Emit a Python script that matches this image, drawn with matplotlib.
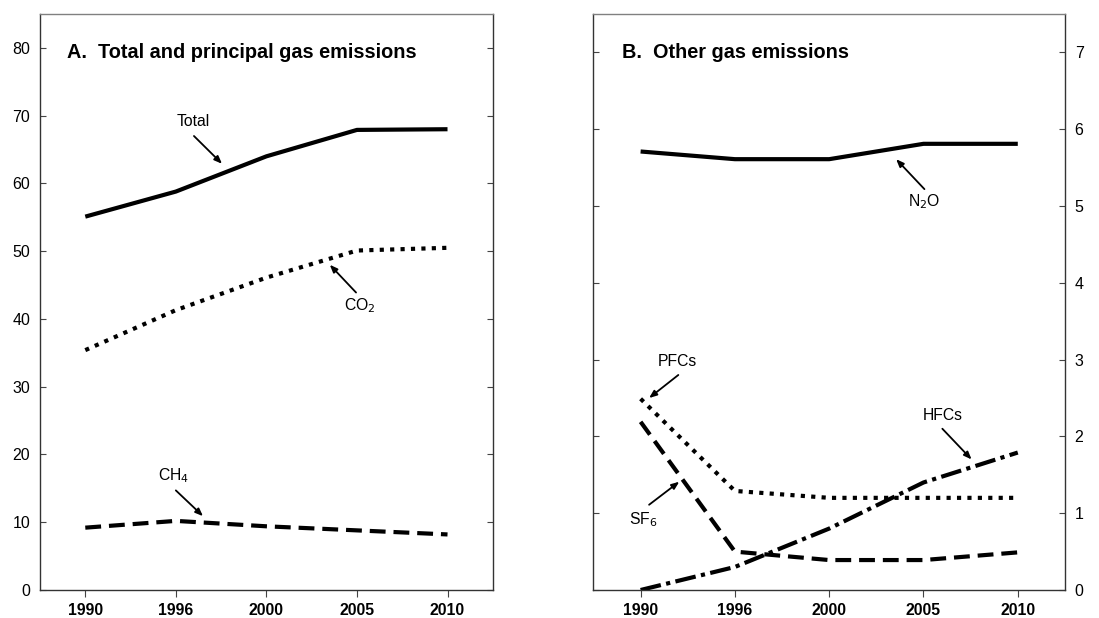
import matplotlib.pyplot as plt

plt.rcParams['font.family'] = ['Liberation Sans', 'DejaVu Sans']

# Data
years = ['1990', '1996', '2000', '2005', '2010']

total = [55.1, 58.8, 64.0, 67.9, 68.0]
co2 = [35.4, 41.3, 46.1, 50.1, 50.5]
ch4 = [9.2, 10.2, 9.4, 8.8, 8.2]

n2o = [5.71, 5.61, 5.61, 5.81, 5.81]
pfcs = [2.49, 1.29, 1.20, 1.20, 1.20]
sf6 = [2.19, 0.50, 0.39, 0.39, 0.49]
hfcs = [0.0, 0.30, 0.80, 1.40, 1.79]

left_ticks = [0, 10, 20, 30, 40, 50, 60, 70, 80]
right_ticks = [0, 1, 2, 3, 4, 5, 6, 7]

x = list(range(len(years)))

fig = plt.figure(figsize=(10.99, 6.18), dpi=100)
ax1 = fig.add_axes([0.0364, 0.0453, 0.412, 0.932])
ax2 = fig.add_axes([0.540, 0.0453, 0.429, 0.932])

dotted = (0, (1, 1.5))
dashed = (0, (3.8, 1.9))
dashdot = (0, (5, 1.3, 1, 1.3))


def style_axes(ax, ylim, yticks, label_right=False):
    ax.set_xlim(-0.5, 4.5)
    ax.set_ylim(*ylim)
    ax.set_xticks(x)
    ax.set_xticklabels(years, fontweight='bold', fontsize=11.3)
    ax.set_yticks(yticks)
    ax.tick_params(axis='y', direction='in', length=4, left=True, right=True,
                   labelleft=not label_right, labelright=label_right,
                   labelsize=11.5, pad=7, color='#444444')
    ax.tick_params(axis='x', direction='out', length=5, pad=4, color='#444444')
    ax.spines['top'].set_color('#808080')
    for s in ['left', 'right', 'bottom']:
        ax.spines[s].set_color('#333333')
    for s in ax.spines.values():
        s.set_linewidth(1)


# Panel A
ax1.plot(x, total, color='black', lw=3, solid_capstyle='butt')
ax1.plot(x, co2, color='black', lw=3, linestyle=dotted, dash_capstyle='butt')
ax1.plot(x, ch4, color='black', lw=3, linestyle=dashed, dash_capstyle='butt')
style_axes(ax1, (0, 85), left_ticks)
ax1.text(0.06, 0.934, 'A.  Total and principal gas emissions', transform=ax1.transAxes,
         fontsize=14.3, fontweight='bold', va='center', ha='left')

arrow = dict(arrowstyle='-|>,head_length=0.45,head_width=0.18', color='black', lw=1.3,
             shrinkA=0, shrinkB=0)
ax1.annotate('', xy=(1.51, 62.9), xytext=(1.20, 67.0), arrowprops=arrow)
ax1.text(1.19, 69.2, 'Total', ha='center', va='center', fontsize=11.3)
ax1.annotate('', xy=(2.70, 48.0), xytext=(2.99, 43.9), arrowprops=arrow)
ax1.text(3.03, 42.0, 'CO$_2$', ha='center', va='center', fontsize=11.3)
ax1.annotate('', xy=(1.30, 10.9), xytext=(1.00, 14.7), arrowprops=arrow)
ax1.text(0.97, 16.9, 'CH$_4$', ha='center', va='center', fontsize=11.3)

# Panel B
ax2.plot(x, n2o, color='black', lw=3, solid_capstyle='butt')
ax2.plot(x, pfcs, color='black', lw=3, linestyle=dotted, dash_capstyle='butt')
ax2.plot(x, sf6, color='black', lw=3, linestyle=dashed, dash_capstyle='butt')
ax2.plot(x, hfcs, color='black', lw=3, linestyle=dashdot, dash_capstyle='butt')
style_axes(ax2, (0, 7.5), right_ticks, label_right=True)
ax2.text(0.06, 0.934, 'B.  Other gas emissions', transform=ax2.transAxes,
         fontsize=14.3, fontweight='bold', va='center', ha='left')

ax2.annotate('', xy=(2.71, 5.61), xytext=(3.01, 5.22), arrowprops=arrow)
ax2.text(3.01, 5.06, 'N$_2$O', ha='center', va='center', fontsize=11.3)
ax2.annotate('', xy=(0.09, 2.50), xytext=(0.40, 2.80), arrowprops=arrow)
ax2.text(0.39, 2.98, 'PFCs', ha='center', va='center', fontsize=11.3)
ax2.annotate('', xy=(0.41, 1.41), xytext=(0.09, 1.11), arrowprops=arrow)
ax2.text(0.03, 0.91, 'SF$_6$', ha='center', va='center', fontsize=11.3)
ax2.annotate('', xy=(3.51, 1.70), xytext=(3.20, 2.10), arrowprops=arrow)
ax2.text(3.20, 2.27, 'HFCs', ha='center', va='center', fontsize=11.3)

fig.savefig('out.png', dpi=100)
